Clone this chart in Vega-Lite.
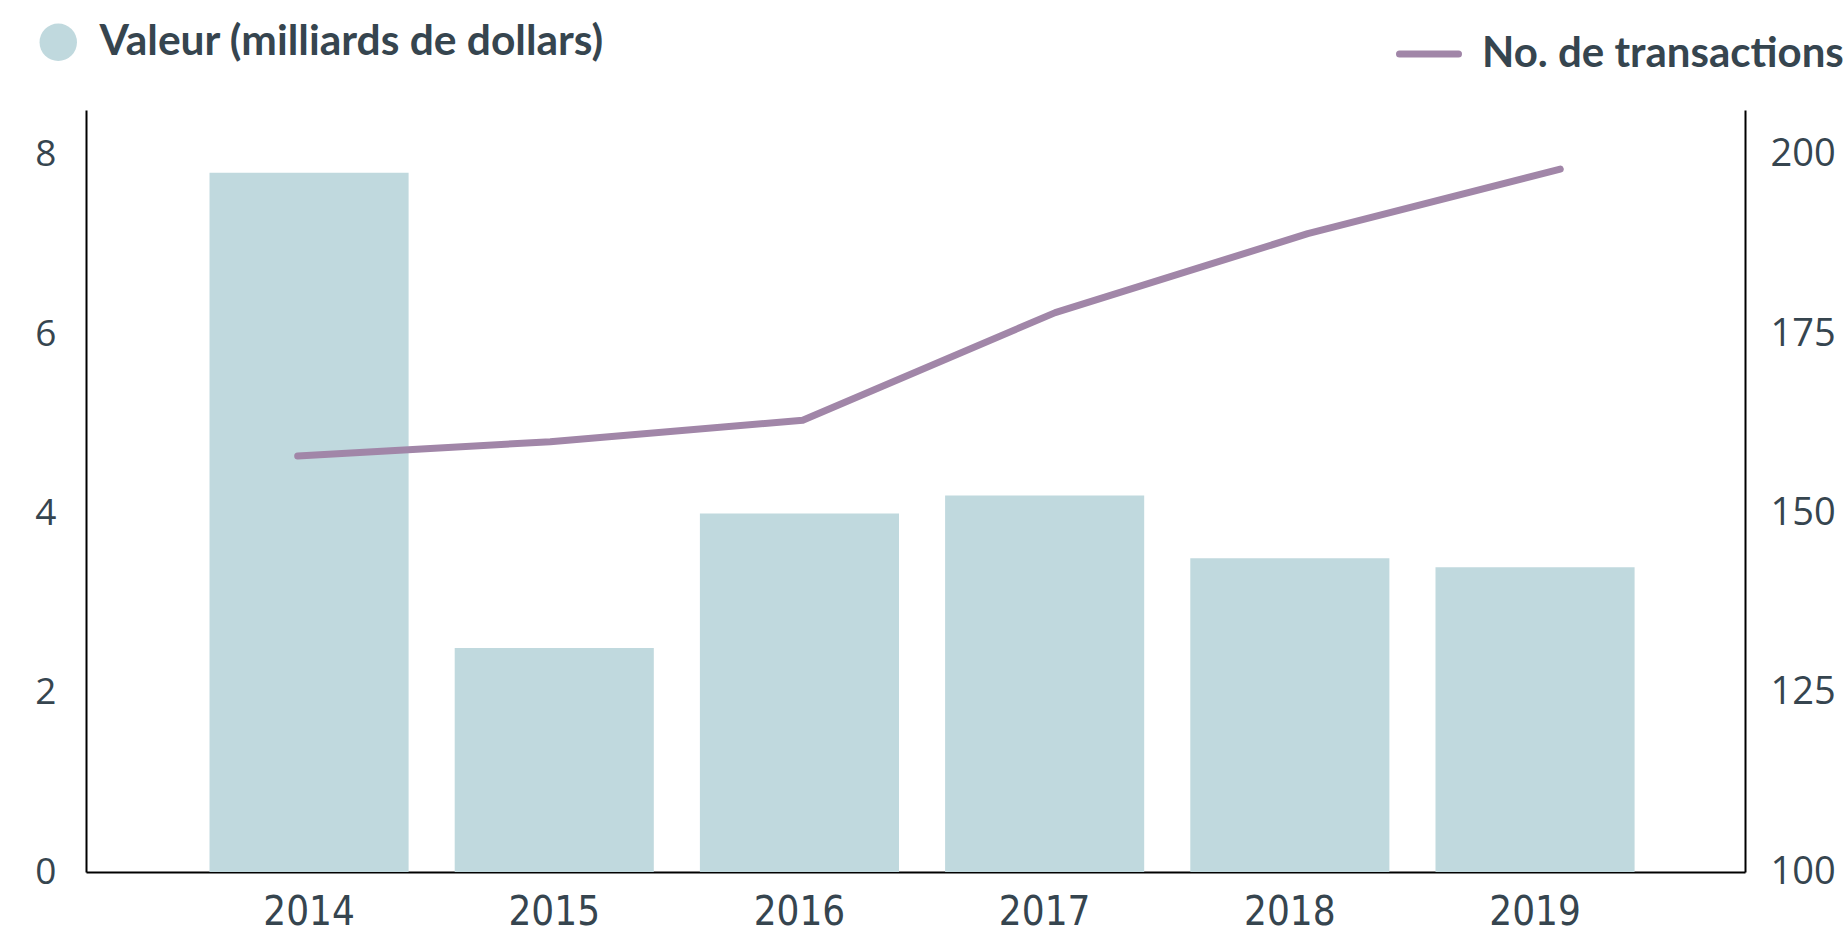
{
  "$schema": "https://vega.github.io/schema/vega-lite/v6.json",
  "width": 1659,
  "height": 762,
  "autosize": {"type": "none"},
  "padding": {"left": 86, "top": 110, "right": 100, "bottom": 63},
  "background": "white",
  "config": {
    "view": {"stroke": null},
    "axis": {"grid": false, "ticks": false, "domainColor": "#000000", "domainWidth": 2, "labelColor": "#36454f", "title": null}
  },
  "data": {
    "values": [
      {"annee": "2014", "valeur": 7.8, "transactions": 158},
      {"annee": "2015", "valeur": 2.5, "transactions": 160},
      {"annee": "2016", "valeur": 4.0, "transactions": 163},
      {"annee": "2017", "valeur": 4.2, "transactions": 178},
      {"annee": "2018", "valeur": 3.5, "transactions": 189},
      {"annee": "2019", "valeur": 3.4, "transactions": 198}
    ]
  },
  "layer": [
    {
      "mark": {"type": "bar"},
      "encoding": {
        "x": {
          "field": "annee", "type": "ordinal",
          "scale": {"paddingInner": 0.188, "paddingOuter": 0.477, "align": 0.528},
          "axis": {"labelAngle": 0, "labelFont": "DejaVu Sans Condensed, sans-serif", "labelFontSize": 40, "labelPadding": 20}
        },
        "y": {
          "field": "valeur", "type": "quantitative",
          "scale": {"domain": [0, 8.5], "nice": false},
          "axis": {"orient": "left", "values": [0, 2, 4, 6, 8], "labelFont": "Open Sans", "labelFontSize": 37, "labelPadding": 30}
        },
        "fill": {
          "datum": "Valeur (milliards de dollars)", "type": "nominal",
          "scale": {"range": ["#c0d9de"]},
          "legend": {
            "title": null, "orient": "none", "legendX": -49, "legendY": -89, "padding": 0,
            "symbolType": "circle", "symbolSize": 1400, "symbolStrokeWidth": 0,
            "labelFont": "Lato", "labelFontSize": 42.5, "labelFontWeight": "bold",
            "labelColor": "#36454f", "labelOffset": 20, "labelLimit": 0
          }
        }
      }
    },
    {
      "mark": {"type": "line", "strokeWidth": 7, "strokeCap": "round", "strokeJoin": "round"},
      "encoding": {
        "x": {
          "field": "annee", "type": "ordinal",
          "scale": {"type": "point", "padding": 0.785, "align": 0.534},
          "axis": null
        },
        "y": {
          "field": "transactions", "type": "quantitative",
          "scale": {"domain": [100, 206.25], "nice": false, "zero": false},
          "axis": {"orient": "right", "values": [100, 125, 150, 175, 200], "labelFont": "Open Sans", "labelFontSize": 38, "labelPadding": 25}
        },
        "stroke": {
          "datum": "No. de transactions", "type": "nominal",
          "scale": {"range": ["#a186a8"]},
          "legend": {
            "title": null, "orient": "none", "legendX": 1310, "legendY": -89, "padding": 0,
            "symbolType": "stroke", "symbolSize": 3481, "symbolStrokeWidth": 7,
            "labelFont": "Lato", "labelFontSize": 42, "labelFontWeight": "bold",
            "labelColor": "#36454f", "labelOffset": 20, "labelLimit": 0,
            "encode": {"symbols": {"update": {"strokeCap": {"value": "round"}}}}
          }
        }
      }
    }
  ],
  "resolve": {"scale": {"y": "independent", "x": "independent"}}
}
